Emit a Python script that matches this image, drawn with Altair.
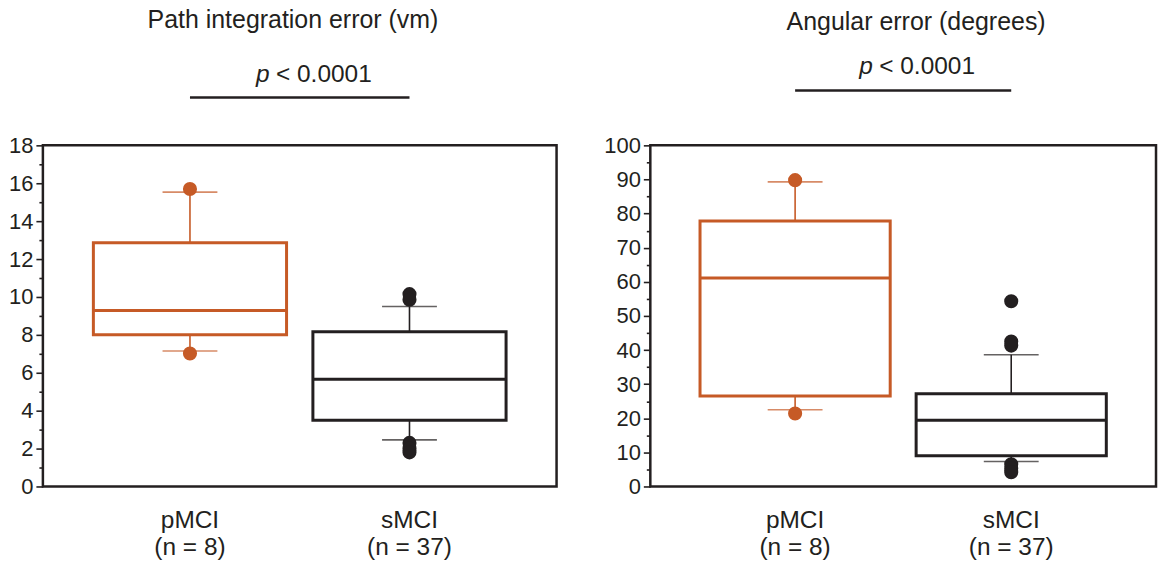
import altair as alt
import pandas as pd

# ---------------- data ----------------
groups = ["pMCI", "sMCI"]
n_sizes = [8, 37]
colors = ["#C65A26", "#231F20"]

path_q1 = [8.01, 3.49]
path_median = [9.29, 5.66]
path_q3 = [12.86, 8.17]
path_whisker_low = [7.15, 2.46]
path_whisker_high = [15.53, 9.5]
path_outliers_pMCI = [15.7, 7.02]
path_outliers_sMCI = [10.15, 9.85, 2.3, 2.0, 1.8]

angle_q1 = [26.5, 9.0]
angle_median = [61.1, 19.4]
angle_q3 = [77.8, 27.2]
angle_whisker_low = [22.5, 7.3]
angle_whisker_high = [89.3, 38.6]
angle_outliers_pMCI = [89.8, 21.4]
angle_outliers_sMCI = [54.3, 42.5, 41.3, 6.5, 5.3, 4.2]

path_title = "Path integration error (vm)"
angle_title = "Angular error (degrees)"
p_value_text = "< 0.0001"

FONT = "Liberation Sans"
INK = "#231F20"


def panel(title, q1, med, q3, lo, hi, out_p, out_s, ymax, major, minor,
          width, height, title_y, title_dx, p_y, line_y):
    labels = [f"{g}|(n = {n})" for g, n in zip(groups, n_sizes)]
    box = pd.DataFrame({"label": labels, "group": groups, "q1": q1,
                        "median": med, "q3": q3, "lo": lo, "hi": hi})
    out = pd.DataFrame({
        "label": [labels[0]] * len(out_p) + [labels[1]] * len(out_s),
        "group": [groups[0]] * len(out_p) + [groups[1]] * len(out_s),
        "value": out_p + out_s,
    })

    xscale = alt.Scale(domain=labels, paddingInner=0.12, paddingOuter=0.23)
    xaxis = alt.Axis(title=None, labelExpr="split(datum.label, '|')",
                     ticks=False, domain=False, labelAngle=0,
                     labelFontSize=24.5, labelLineHeight=27, labelPadding=22,
                     labelColor=INK, labelFont=FONT)
    xenc = alt.X("label:N", sort=labels, scale=xscale, axis=xaxis)
    yscale = alt.Scale(domain=[0, ymax], nice=False, zero=True)
    tick_vals = list(range(0, ymax + 1, minor))
    yaxis = alt.Axis(
        title=None, values=tick_vals, domain=False, labelOverlap=False,
        labelExpr=f"datum.value % {major} === 0 ? datum.label : ''",
        tickSize={"condition": {"test": f"datum.value % {major} === 0", "value": 7}, "value": 4},
        tickColor=INK, tickWidth=1.6, labelColor=INK, labelFont=FONT,
        labelFontSize=22, labelPadding=3, grid=False,
    )

    def Y(field):
        return alt.Y(field, scale=yscale, axis=yaxis)

    cscale = alt.Scale(domain=groups, range=colors)
    col = alt.Color("group:N", scale=cscale, legend=None)
    stroke = alt.Stroke("group:N", scale=cscale, legend=None)

    base = alt.Chart(box)
    stem_up = base.mark_rule(strokeWidth=1.6).encode(
        x=xenc, y=Y("q3:Q"), y2="hi:Q", color=col)
    stem_down = base.mark_rule(strokeWidth=1.6).encode(
        x=xenc, y=Y("lo:Q"), y2="q1:Q", color=col)
    cap_hi = base.mark_tick(size=55, thickness=1.6, orient="horizontal").encode(
        x=xenc, y=Y("hi:Q"), color=col)
    cap_lo = base.mark_tick(size=55, thickness=1.6, orient="horizontal").encode(
        x=xenc, y=Y("lo:Q"), color=col)
    boxes = base.mark_bar(fill="white", fillOpacity=1, strokeWidth=3).encode(
        x=xenc, y=Y("q1:Q"), y2="q3:Q", stroke=stroke)
    medians = base.mark_bar(strokeWidth=3, fillOpacity=0).encode(
        x=xenc, y=Y("median:Q"), y2="median:Q", stroke=stroke)
    dots = alt.Chart(out).mark_circle(size=200, opacity=1).encode(
        x=xenc, y=Y("value:Q"), color=col)

    ann = pd.DataFrame({"label": [labels[1]]})
    ann_base = alt.Chart(ann)
    ann_x = alt.X("label:N", sort=labels, bandPosition=0, scale=xscale, axis=xaxis)
    title_mark = ann_base.mark_text(
        text=title, font=FONT, fontSize=25, color=INK, align="center",
        baseline="middle", dx=title_dx).encode(x=ann_x, y=alt.value(title_y))
    p_mark = ann_base.mark_text(
        text="p", font=FONT, fontSize=24.5, fontStyle="italic", color=INK,
        align="left", baseline="middle", dx=-57).encode(x=ann_x, y=alt.value(p_y))
    pv_mark = ann_base.mark_text(
        text=p_value_text, font=FONT, fontSize=24.5, color=INK,
        align="left", baseline="middle", dx=-37).encode(x=ann_x, y=alt.value(p_y))
    line_df = pd.DataFrame({"label": [labels[0]], "b": [labels[1]]})
    sig_line = alt.Chart(line_df).mark_rule(color=INK, strokeWidth=2.5).encode(
        x=xenc, x2="b:N", y=alt.value(line_y))

    return alt.layer(stem_up, stem_down, cap_hi, cap_lo, boxes, medians, dots,
                     title_mark, p_mark, pv_mark, sig_line).properties(
        width=width, height=height)


left = panel(path_title, path_q1, path_median, path_q3, path_whisker_low,
             path_whisker_high, path_outliers_pMCI, path_outliers_sMCI,
             18, 2, 1, 515, 342, -126, -20, -71, -48)
right = panel(angle_title, angle_q1, angle_median, angle_q3, angle_whisker_low,
              angle_whisker_high, angle_outliers_pMCI, angle_outliers_sMCI,
              100, 10, 5, 507, 342, -124, 0, -79, -55)

chart = alt.hconcat(left, right, spacing=44).properties(
    padding={"left": 7, "top": 5, "right": 4, "bottom": 2},
    background="white",
).configure_view(stroke=INK, strokeWidth=2.5)

chart.save("out.html", embed_options={"renderer": "svg", "actions": False})
